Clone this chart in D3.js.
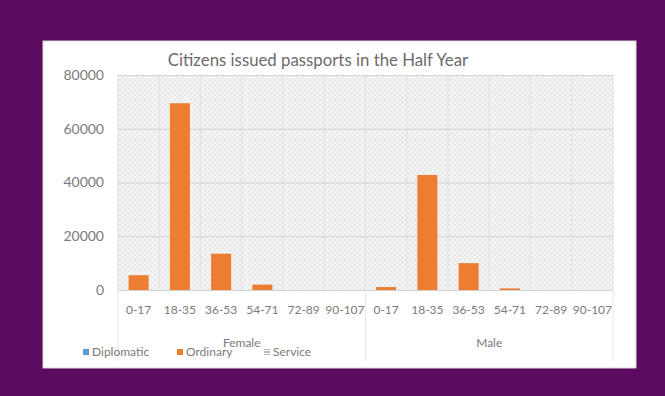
<!DOCTYPE html>
<html>
<head>
<meta charset="utf-8">
<script src="https://cdn.jsdelivr.net/npm/d3@7"></script>
<style>
  html, body { margin: 0; padding: 0; background: #5b0a5f; }
  svg { display: block; }
  text { font-family: Lato, "Open Sans", sans-serif; }
</style>
</head>
<body>
<svg id="chart" width="665" height="396"></svg>
<script>
// Passports issued to citizens in the half year, by gender and age band
const groups = ["Female", "Male"];
const ageBands = ["0-17", "18-35", "36-53", "54-71", "72-89", "90-107"];
const seriesNames = ["Diplomatic", "Ordinary", "Service"];
const diplomatic = [0, 0, 0, 0, 0, 0, 0, 0, 0, 0, 0, 0];
const ordinary = [5500, 69500, 13500, 2000, 0, 0, 1100, 42800, 10000, 600, 0, 0];
const service = [0, 0, 0, 0, 0, 0, 0, 0, 0, 0, 0, 0];
const yTicks = [0, 20000, 40000, 60000, 80000];
const seriesColors = ["#5b9bd5", "#ed7d31", "#a5a5a5"];

const svg = d3.select("#chart");

// card
const card = { x: 43, y: 41, w: 593, h: 327 };
const plot = { left: 118, right: 613, top: 75, bottom: 290 };

const defs = svg.append("defs");
const hatch = defs.append("pattern")
  .attr("id", "hatch").attr("patternUnits", "userSpaceOnUse")
  .attr("width", 5).attr("height", 5);
hatch.append("rect").attr("width", 5).attr("height", 5).attr("fill", "#f6f6f6");
hatch.append("path").attr("d", "M0,5 L5,0 M-1,1 L1,-1 M4,6 L6,4")
  .attr("stroke", "#dedede").attr("stroke-width", 0.8);
hatch.append("path").attr("d", "M0,0 L5,5 M-1,4 L1,6 M4,-1 L6,1")
  .attr("stroke", "#dedede").attr("stroke-width", 0.8);

const serviceHatch = defs.append("pattern")
  .attr("id", "svcHatch").attr("patternUnits", "userSpaceOnUse")
  .attr("width", 3).attr("height", 3);
serviceHatch.append("rect").attr("width", 3).attr("height", 3).attr("fill", "#ffffff");
serviceHatch.append("path").attr("d", "M0,1 H3").attr("stroke", "#8c8c8c").attr("stroke-width", 1.2);

svg.append("rect")
  .attr("x", card.x).attr("y", card.y).attr("width", card.w).attr("height", card.h)
  .attr("fill", "#ffffff").attr("stroke", "#d9d9d9").attr("stroke-width", 1);

// title
svg.append("text")
  .attr("x", 318).attr("y", 66)
  .attr("text-anchor", "middle")
  .attr("font-size", 16.8)
  .attr("fill", "#6b6b6b")
  .text("Citizens issued passports in the Half Year");

// scales
const categories = [];
groups.forEach(g => ageBands.forEach(a => categories.push(g + "|" + a)));

const x = d3.scaleBand().domain(categories).range([plot.left, plot.right]).padding(0);
const bw = x.bandwidth();
const xs = d3.scaleBand().domain(seriesNames).range([bw / 2 - 30, bw / 2 + 30]).padding(0);
const y = d3.scaleLinear().domain([0, 80000]).range([plot.bottom, plot.top]);

// plot background
svg.append("rect")
  .attr("x", plot.left).attr("y", plot.top)
  .attr("width", plot.right - plot.left).attr("height", plot.bottom - plot.top)
  .attr("fill", "url(#hatch)");

// vertical grid at category boundaries
const vBounds = categories.map(c => x(c)).concat([plot.right]);
svg.append("g").selectAll("line").data(vBounds).join("line")
  .attr("x1", d => d).attr("x2", d => d)
  .attr("y1", plot.top).attr("y2", plot.bottom)
  .attr("stroke", "#e4e4e4").attr("stroke-width", 1.5);

// horizontal grid
const yAxis = d3.axisLeft(y).tickValues(yTicks).tickFormat(d3.format("d"))
  .tickSize(-(plot.right - plot.left)).tickPadding(14);
const gy = svg.append("g").attr("transform", `translate(${plot.left},0)`).call(yAxis);
gy.select(".domain").remove();
gy.selectAll(".tick line").attr("stroke", "#d2d2d2").attr("stroke-width", 1);
gy.selectAll(".tick text")
  .attr("font-size", 14).attr("fill", "#7a7a7a")
  .attr("font-family", "Lato, 'Open Sans', sans-serif");

// bars
const seriesData = [diplomatic, ordinary, service];
seriesNames.forEach((name, si) => {
  svg.append("g").selectAll("rect")
    .data(seriesData[si].map((v, i) => ({ cat: categories[i], v })))
    .join("rect")
    .attr("x", d => x(d.cat) + xs(name))
    .attr("width", xs.bandwidth())
    .attr("y", d => y(d.v))
    .attr("height", d => y(0) - y(d.v))
    .attr("fill", name === "Service" ? "url(#svcHatch)" : seriesColors[si]);
});

// category axis: age band labels
const xAxis = d3.axisBottom(x).tickFormat(d => d.split("|")[1]).tickSize(0).tickPadding(15);
const gx = svg.append("g").attr("transform", `translate(0,${plot.bottom})`).call(xAxis);
gx.select(".domain").remove();
gx.selectAll(".tick text")
  .attr("font-size", 12).attr("fill", "#7a7a7a")
  .attr("font-family", "Lato, 'Open Sans', sans-serif");

// group separators extending below the plot
const groupEdges = [plot.left, x("Male|0-17"), plot.right];
svg.append("g").selectAll("line").data(groupEdges).join("line")
  .attr("x1", d => d).attr("x2", d => d)
  .attr("y1", plot.bottom).attr("y2", 361)
  .attr("stroke", "#e6e6e6").attr("stroke-width", 1);

// group labels
groups.forEach(g => {
  const first = x(g + "|" + ageBands[0]);
  const last = x(g + "|" + ageBands[ageBands.length - 1]) + bw;
  svg.append("text")
    .attr("x", (first + last) / 2)
    .attr("y", 347)
    .attr("text-anchor", "middle")
    .attr("font-size", 12).attr("fill", "#7a7a7a")
    .text(g);
});

// legend
const legendX = [83, 177, 264];
const legend = svg.append("g");
seriesNames.forEach((name, i) => {
  legend.append("rect")
    .attr("x", legendX[i]).attr("y", 349)
    .attr("width", 6).attr("height", 6)
    .attr("fill", name === "Service" ? "url(#svcHatch)" : seriesColors[i]);
  legend.append("text")
    .attr("x", legendX[i] + 9).attr("y", 356)
    .attr("font-size", 12).attr("fill", "#7a7a7a")
    .text(name);
});
</script>
</body>
</html>
